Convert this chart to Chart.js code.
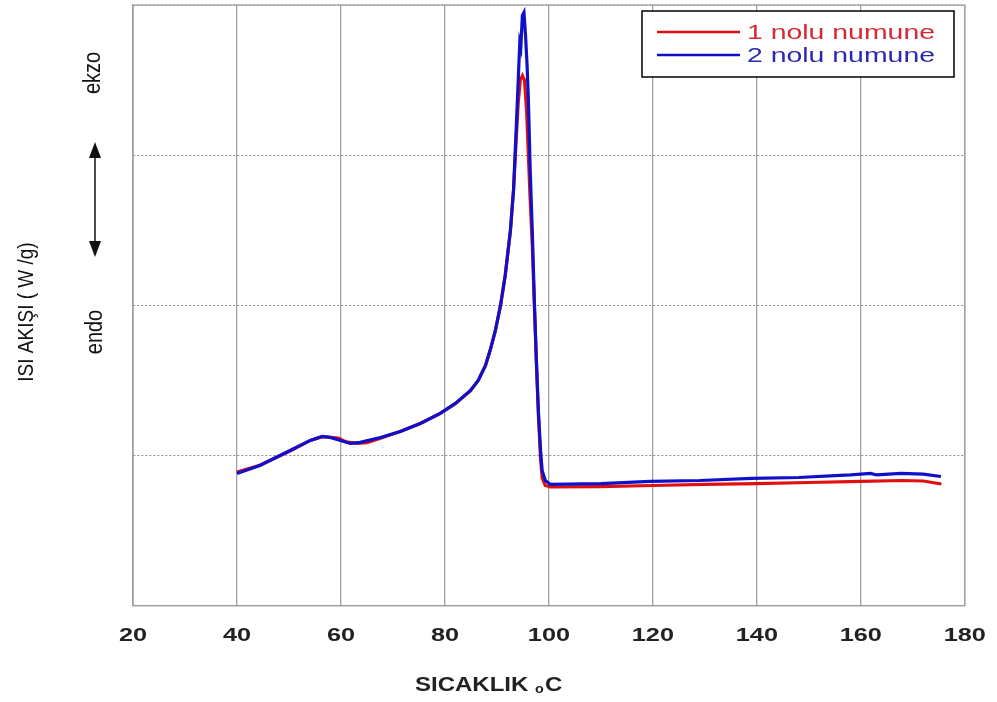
<!DOCTYPE html>
<html>
<head>
<meta charset="utf-8">
<script src="https://cdn.jsdelivr.net/npm/chart.js@4.4.0/dist/chart.umd.min.js"></script>
<style>
html,body{margin:0;padding:0;background:#fff;}
#wrap{width:997px;height:702px;position:relative;}
</style>
</head>
<body>
<div id="wrap"><canvas id="c" width="997" height="702"></canvas></div>
<script>
// Sample 1 (red)
const tempRed = [40, 44.4, 50.2, 54.1, 56.4, 58, 59.5, 61, 63, 65, 67.6, 71.4, 75.3, 79.1, 82, 84.9, 86.4, 87.8, 88.7, 89.7, 90.7, 91.6, 92.6, 93.2, 93.7, 94.1, 94.5, 94.9, 95.3, 95.7, 96.05, 96.4, 96.8, 97.2, 97.6, 98.0, 98.4, 98.7, 99.3, 100.3, 110, 120, 130, 140, 150, 160, 168, 172, 175.5];
const flowRed = [0.89, 0.935, 1.03, 1.1, 1.125, 1.12, 1.115, 1.09, 1.08, 1.085, 1.115, 1.16, 1.215, 1.28, 1.345, 1.43, 1.5, 1.6, 1.7, 1.83, 2.0, 2.2, 2.5, 2.77, 3.1, 3.35, 3.5, 3.53, 3.5, 3.3, 3.0, 2.7, 2.4, 2.0, 1.6, 1.25, 0.97, 0.85, 0.8, 0.79, 0.793, 0.8, 0.807, 0.813, 0.82, 0.827, 0.833, 0.83, 0.81];
// Sample 2 (blue)
const tempBlue = [40, 44.4, 50.2, 54.1, 56.4, 57.9, 59.9, 61.8, 63.7, 67.6, 71.4, 75.3, 79.1, 82, 84.9, 86.4, 87.8, 88.7, 89.7, 90.7, 91.6, 92.6, 93.2, 93.7, 94.1, 94.4, 94.6, 94.9, 95.2, 95.5, 95.8, 96.05, 96.4, 96.8, 97.2, 97.6, 97.97, 98.4, 98.7, 99.3, 100.3, 110, 119.5, 129, 139, 148, 156, 158, 161.9, 163, 167.7, 172, 175.4];
const flowBlue = [0.88, 0.933, 1.033, 1.1, 1.127, 1.12, 1.1, 1.08, 1.087, 1.12, 1.16, 1.213, 1.28, 1.347, 1.433, 1.5, 1.6, 1.7, 1.833, 2.0, 2.2, 2.5, 2.77, 3.17, 3.5, 3.75, 3.72, 3.93, 3.95, 3.8, 3.6, 3.37, 2.9, 2.5, 2.03, 1.63, 1.3, 1.03, 0.9, 0.833, 0.807, 0.813, 0.827, 0.833, 0.847, 0.853, 0.867, 0.87, 0.88, 0.87, 0.88, 0.875, 0.86];

const seriesLabels = ['1 nolu numune', '2 nolu numune'];
const xTicks = [20, 40, 60, 80, 100, 120, 140, 160, 180];
const xTitle = 'SICAKLIK ';
const yTitle = 'ISI AKIŞI ( W /g)';

const toPts = (xs, ys) => xs.map((x, i) => ({x: x, y: ys[i]}));
const FONT = '"Liberation Sans", Arial, sans-serif';

function stretchText(ctx, text, x, y, sx, align) {
  ctx.save();
  ctx.translate(x, y);
  ctx.scale(sx, 1);
  ctx.textAlign = align;
  ctx.fillText(text, 0, 0);
  ctx.restore();
}
function rotText(ctx, text, cx, cy, font, sy) {
  ctx.save();
  ctx.translate(cx, cy);
  ctx.rotate(-Math.PI / 2);
  ctx.scale(1, sy);
  ctx.font = font;
  ctx.textAlign = 'center';
  ctx.textBaseline = 'middle';
  ctx.fillText(text, 0, 0);
  ctx.restore();
}

const extras = {
  id: 'extras',
  afterDraw(chart) {
    const ctx = chart.ctx;
    ctx.save();
    ctx.fillStyle = '#111';
    rotText(ctx, yTitle, 27, 312, '19px ' + FONT, 1.2);
    rotText(ctx, 'ekzo', 94, 73, '20px ' + FONT, 1.15);
    rotText(ctx, 'endo', 96, 332, '20px ' + FONT, 1.15);
    // arrow
    ctx.strokeStyle = '#111';
    ctx.fillStyle = '#111';
    ctx.lineWidth = 1.5;
    ctx.beginPath();
    ctx.moveTo(95, 155); ctx.lineTo(95, 245); ctx.stroke();
    ctx.beginPath();
    ctx.moveTo(95, 142); ctx.lineTo(89, 158); ctx.lineTo(101, 158); ctx.closePath(); ctx.fill();
    ctx.beginPath();
    ctx.moveTo(95, 257); ctx.lineTo(89, 241); ctx.lineTo(101, 241); ctx.closePath(); ctx.fill();

    // x tick labels
    const xs = chart.scales.x;
    ctx.font = 'bold 19px ' + FONT;
    ctx.fillStyle = '#222';
    ctx.textBaseline = 'alphabetic';
    xTicks.forEach(v => {
      stretchText(ctx, String(v), xs.getPixelForValue(v), 641, 1.33, 'center');
    });

    // x title
    ctx.save();
    ctx.translate(415, 691);
    ctx.scale(1.2, 1);
    ctx.textAlign = 'left';
    ctx.font = 'bold 20px ' + FONT;
    ctx.fillStyle = '#222';
    ctx.fillText(xTitle, 0, 0);
    let w = ctx.measureText(xTitle).width;
    ctx.font = 'bold 12px ' + FONT;
    ctx.fillText('o', w, 2);
    w += ctx.measureText('o').width + 1;
    ctx.font = 'bold 20px ' + FONT;
    ctx.fillText('C', w, 0);
    ctx.restore();

    // legend
    const lx = 642, ly = 11, lw = 312, lh = 66;
    ctx.fillStyle = '#fff';
    ctx.fillRect(lx, ly, lw, lh);
    ctx.strokeStyle = '#000';
    ctx.lineWidth = 1.5;
    ctx.strokeRect(lx, ly, lw, lh);
    ctx.font = '21px ' + FONT;
    ctx.textBaseline = 'middle';
    const textCols = ['#d42a35', '#2a2ab0'];
    [0, 1].forEach((di, k) => {
      const ds = chart.data.datasets[di];
      const yy = 32 + k * 23;
      ctx.strokeStyle = ds.borderColor;
      ctx.lineWidth = 2.5;
      ctx.beginPath(); ctx.moveTo(657, yy); ctx.lineTo(740, yy); ctx.stroke();
      ctx.fillStyle = textCols[k];
      const nat = ctx.measureText(ds.label).width;
      stretchText(ctx, ds.label, 747, yy + 1, 188 / nat, 'left');
    });
    ctx.restore();
  }
};

new Chart(document.getElementById('c'), {
  type: 'line',
  data: {
    datasets: [
      {label: seriesLabels[0], data: toPts(tempRed, flowRed), borderColor: '#e01010', borderWidth: 3.2, pointRadius: 0, tension: 0, order: 1},
      {label: seriesLabels[1], data: toPts(tempBlue, flowBlue), borderColor: '#1010c8', borderWidth: 3.2, pointRadius: 0, tension: 0, order: 0}
    ]
  },
  options: {
    responsive: false,
    animation: false,
    layout: {padding: {left: 133, right: 32, top: 5, bottom: 40}},
    plugins: {legend: {display: false}, tooltip: {enabled: false}},
    scales: {
      x: {
        type: 'linear', min: 20, max: 180,
        afterBuildTicks: (ax) => { ax.ticks = xTicks.map(v => ({value: v})); },
        grid: {color: '#a0a0a0', lineWidth: 1.3, drawTicks: false},
        border: {color: '#a0a0a0', width: 1.3},
        ticks: {color: 'rgba(0,0,0,0)', font: {family: FONT, size: 17, weight: 'bold'}, padding: 18, maxRotation: 0}
      },
      y: {
        min: 0, max: 4,
        ticks: {display: false, stepSize: 1},
        grid: {color: '#8a8a8a', lineWidth: 1, drawTicks: false},
        border: {color: '#a0a0a0', width: 1.3, dash: [2, 2]}
      }
    }
  },
  plugins: [extras, {
    id: 'frame',
    beforeDatasetsDraw(chart) {
      const a = chart.chartArea, ctx = chart.ctx;
      ctx.save();
      ctx.strokeStyle = '#a0a0a0'; ctx.lineWidth = 1.3;
      ctx.strokeRect(a.left, a.top, a.right - a.left, a.bottom - a.top);
      ctx.restore();
    }
  }]
});
</script>
</body>
</html>
